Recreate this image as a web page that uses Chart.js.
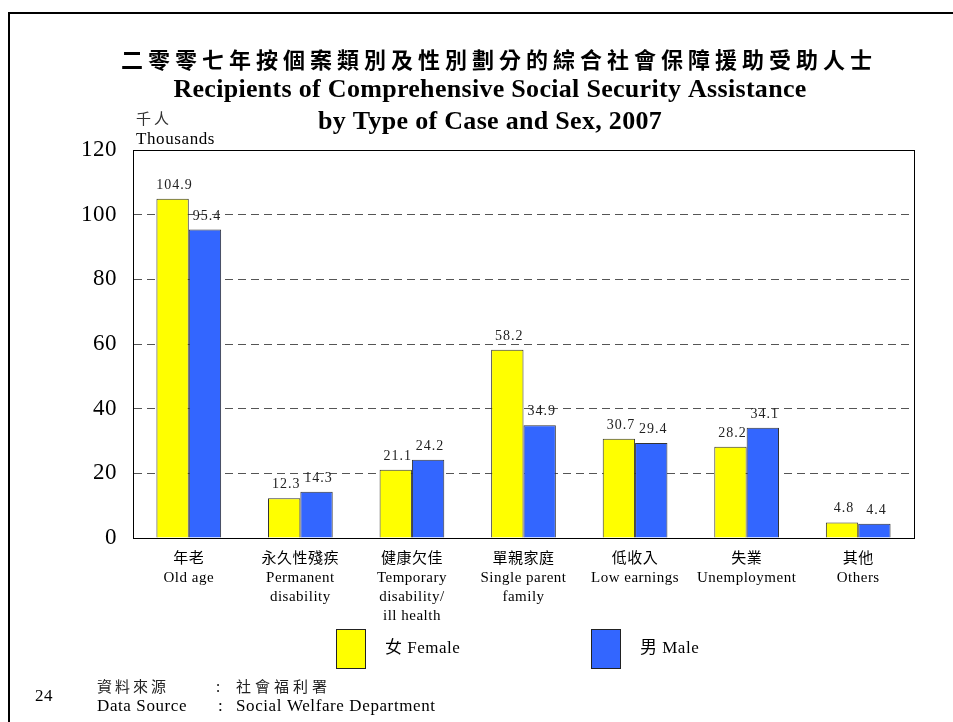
<!DOCTYPE html>
<html>
<head>
<meta charset="utf-8">
<script src="https://cdn.jsdelivr.net/npm/chart.js@4.4.1/dist/chart.umd.min.js"></script>
<style>
  html, body { margin: 0; padding: 0; background: #fff; }
  #wrap { width: 953px; height: 722px; position: relative; }
</style>
</head>
<body>
<div id="wrap"><canvas id="c" width="953" height="722"></canvas></div>
<script>
const categoriesZh = ['年老', '永久性殘疾', '健康欠佳', '單親家庭', '低收入', '失業', '其他'];
const categoriesEn = [['Old age'], ['Permanent', 'disability'], ['Temporary', 'disability/', 'ill health'], ['Single parent', 'family'], ['Low earnings'], ['Unemployment'], ['Others']];
const female = [104.9, 12.3, 21.1, 58.2, 30.7, 28.2, 4.8];
const male = [95.4, 14.3, 24.2, 34.9, 29.4, 34.1, 4.4];
const seriesLabels = ['女 Female', '男 Male'];
const yMin = 0, yMax = 120, yStep = 20;
const titleZh = '二零零七年按個案類別及性別劃分的綜合社會保障援助受助人士';
const titleEn = ['Recipients of Comprehensive Social Security Assistance', 'by Type of Case and Sex, 2007'];
const unitLabel = ['千人', 'Thousands'];
const sourceZh = ['資料來源', ':', '社會福利署'];
const sourceEn = ['Data Source', ':', 'Social Welfare Department'];
const pageNo = '24';

const SERIF = "'Liberation Serif', 'Noto Sans CJK TC', serif";
const CJK = "'Noto Sans CJK TC', 'Liberation Serif', sans-serif";

const labels = categoriesZh.map((z, i) => [z, ...categoriesEn[i]]);

function ls(ctx, v) { if ('letterSpacing' in ctx) ctx.letterSpacing = v; }

const decor = {
  id: 'decor',
  beforeDraw(chart) {
    ls(chart.ctx, '0.5px');
  },
  afterDraw(chart) {
    const ctx = chart.ctx;
    const a = chart.chartArea;
    ctx.save();
    // page border
    ctx.strokeStyle = '#000';
    ctx.lineWidth = 2;
    ctx.beginPath();
    ctx.moveTo(9, 722);
    ctx.lineTo(9, 13);
    ctx.lineTo(953, 13);
    ctx.stroke();
    // plot frame
    ctx.lineWidth = 1;
    ctx.setLineDash([]);
    ctx.strokeRect(Math.round(a.left) + 0.5, Math.round(a.top) + 0.5, Math.round(a.right - a.left), Math.round(a.bottom - a.top));

    // titles
    ctx.fillStyle = '#000';
    ctx.textAlign = 'center';
    ctx.textBaseline = 'middle';
    ctx.font = "bold 22px " + CJK;
    ls(ctx, '5px');
    ctx.fillText(titleZh, 499, 60);
    ls(ctx, '0.3px');
    ctx.font = "bold 26px " + SERIF;
    ctx.fillText(titleEn[0], 490, 90);
    ctx.fillText(titleEn[1], 490, 122);

    // unit label
    ctx.textAlign = 'left';
    ls(ctx, '3px');
    ctx.font = "15px " + CJK;
    ctx.fillStyle = '#333';
    ctx.fillText(unitLabel[0], 136, 118);
    ls(ctx, '0.6px');
    ctx.font = "17px " + SERIF;
    ctx.fillStyle = '#000';
    ctx.fillText(unitLabel[1], 136, 140);

    // data labels
    ls(ctx, '1px');
    ctx.font = "14px " + SERIF;
    ctx.fillStyle = '#222';
    ctx.textAlign = 'center';
    ctx.textBaseline = 'alphabetic';
    chart.data.datasets.forEach((ds, di) => {
      const meta = chart.getDatasetMeta(di);
      meta.data.forEach((bar, i) => {
        ctx.fillText(String(ds.data[i].toFixed(1)), bar.x + 2, bar.y - 10);
      });
    });

    // legend
    ls(ctx, '0.5px');
    const legendX = [336, 591];
    chart.data.datasets.forEach((ds, di) => {
      const x = legendX[di];
      ctx.fillStyle = ds.backgroundColor;
      ctx.fillRect(x, 629, 29, 39);
      ctx.strokeStyle = '#222';
      ctx.lineWidth = 1;
      ctx.strokeRect(x + 0.5, 629.5, 29, 39);
      ctx.fillStyle = '#000';
      ctx.textAlign = 'left';
      ctx.textBaseline = 'middle';
      ctx.font = "17px " + SERIF;
      ctx.fillText(ds.label, x + 49, 649);
    });

    // source
    ls(ctx, '3px');
    ctx.font = "15px " + CJK;
    ctx.fillStyle = '#222';
    ctx.fillText(sourceZh[0], 97, 686);
    ctx.fillText(sourceZh[1], 216, 686);
    ls(ctx, '4px');
    ctx.fillText(sourceZh[2], 236, 686);
    ls(ctx, '0.6px');
    ctx.font = "17px " + SERIF;
    ctx.fillStyle = '#000';
    ctx.fillText(sourceEn[0], 97, 707);
    ctx.fillText(sourceEn[1], 218, 707);
    ctx.fillText(sourceEn[2], 236, 707);
    ctx.font = "17px " + SERIF;
    ctx.fillText(pageNo, 35, 697);
    ctx.restore();
  }
};

new Chart(document.getElementById('c'), {
  type: 'bar',
  data: {
    labels: labels,
    datasets: [
      { label: seriesLabels[0], data: female, backgroundColor: '#FFFF00', borderColor: '#333', borderWidth: 1, borderSkipped: 'bottom' },
      { label: seriesLabels[1], data: male, backgroundColor: '#3366FF', borderColor: '#333', borderWidth: 1, borderSkipped: 'bottom' }
    ]
  },
  options: {
    responsive: false,
    animation: false,
    devicePixelRatio: 1,
    layout: { padding: { left: 0, right: 39, top: 150, bottom: 0 } },
    plugins: { legend: { display: false }, title: { display: false }, tooltip: { enabled: false } },
    datasets: { bar: { categoryPercentage: 0.58, barPercentage: 1 } },
    scales: {
      x: {
        grid: { display: false, drawTicks: false },
        border: { display: true, color: '#000', width: 1 },
        ticks: {
          color: '#000',
          font: { family: SERIF, size: 15, lineHeight: '19px' },
          padding: 12,
          maxRotation: 0,
          autoSkip: false
        },
        afterFit(scale) { scale.height = 184; }
      },
      y: {
        min: yMin, max: yMax,
        grid: { color: '#555', lineWidth: 1, drawTicks: false },
        border: { display: true, color: '#000', dash: [8, 5], width: 1 },
        ticks: {
          stepSize: yStep,
          color: '#000',
          font: { family: SERIF, size: 23 },
          padding: 16
        },
        afterFit(scale) { scale.width = 133; }
      }
    }
  },
  plugins: [decor]
});
</script>
</body>
</html>
